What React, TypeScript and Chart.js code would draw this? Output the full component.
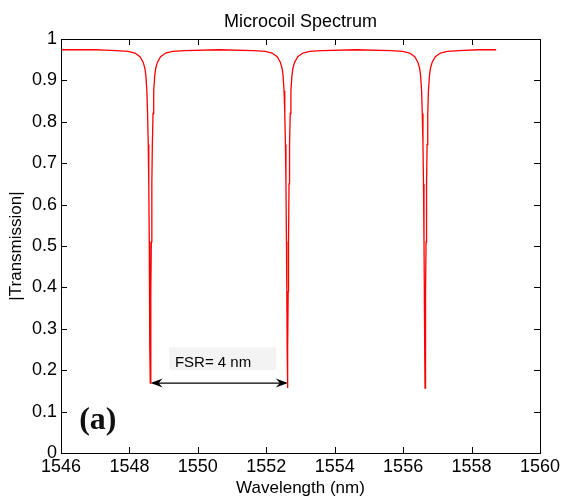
import React, { useEffect, useRef } from "react";
import { Chart, registerables } from "chart.js";

Chart.register(...registerables);

// ---- data ----
const WAVELENGTH_NM = [
  1546.0, 1547.0, 1547.3,
  // resonance 1
  1547.61, 1547.96, 1548.16, 1548.31, 1548.40, 1548.45, 1548.48, 1548.51, 1548.53, 1548.55,
  1548.565, 1548.58, 1548.59, 1548.60, 1548.61, 1548.62, 1548.63, 1548.64, 1548.655, 1548.67,
  1548.69, 1548.71, 1548.74, 1548.77, 1548.82, 1548.91, 1549.06, 1549.26, 1549.61,
  1550.61,
  // resonance 2
  1551.62, 1551.97, 1552.17, 1552.32, 1552.41, 1552.46, 1552.49, 1552.52, 1552.54, 1552.56,
  1552.575, 1552.59, 1552.60, 1552.61, 1552.62, 1552.63, 1552.64, 1552.65, 1552.665, 1552.68,
  1552.70, 1552.72, 1552.75, 1552.78, 1552.83, 1552.92, 1553.07, 1553.27, 1553.62,
  1554.63,
  // resonance 3
  1555.64, 1555.99, 1556.19, 1556.34, 1556.43, 1556.48, 1556.51, 1556.54, 1556.56, 1556.58,
  1556.595, 1556.61, 1556.62, 1556.63, 1556.64, 1556.65, 1556.66, 1556.67, 1556.685, 1556.70,
  1556.72, 1556.74, 1556.77, 1556.80, 1556.85, 1556.94, 1557.09, 1557.29, 1557.64,
  1558.2, 1558.72,
];

const TRANSMISSION = [
  0.974, 0.974, 0.973,
  0.972, 0.970, 0.966, 0.957, 0.944, 0.930, 0.912, 0.875, 0.820, 0.745,
  0.650, 0.510, 0.390, 0.255, 0.169, 0.255, 0.390, 0.510, 0.650, 0.745,
  0.820, 0.875, 0.912, 0.930, 0.944, 0.957, 0.966, 0.970, 0.972,
  0.974,
  0.972, 0.970, 0.966, 0.957, 0.944, 0.930, 0.912, 0.875, 0.820, 0.745,
  0.650, 0.510, 0.390, 0.255, 0.157, 0.255, 0.390, 0.510, 0.650, 0.745,
  0.820, 0.875, 0.912, 0.930, 0.944, 0.957, 0.966, 0.970, 0.972,
  0.974,
  0.972, 0.970, 0.966, 0.957, 0.944, 0.930, 0.912, 0.875, 0.820, 0.745,
  0.650, 0.510, 0.390, 0.255, 0.157, 0.255, 0.390, 0.510, 0.650, 0.745,
  0.820, 0.875, 0.912, 0.930, 0.944, 0.957, 0.966, 0.970, 0.972,
  0.974, 0.974,
];

const X_TICKS = [1546, 1548, 1550, 1552, 1554, 1556, 1558, 1560];
const X_TICK_LABELS = ["1546", "1548", "1550", "1552", "1554", "1556", "1558", "1560"];
const Y_TICKS = [0, 0.1, 0.2, 0.3, 0.4, 0.5, 0.6, 0.7, 0.8, 0.9, 1];
const Y_TICK_LABELS = ["0", "0.1", "0.2", "0.3", "0.4", "0.5", "0.6", "0.7", "0.8", "0.9", "1"];

const TITLE = "Microcoil Spectrum";
const X_TITLE = "Wavelength (nm)";
const Y_TITLE = "|Transmission|";

// annotations (data coordinates)
const FSR_ARROW_NM = [1548.62, 1552.63];
const FSR_ARROW_LEVEL = 0.169;
const FSR_LABEL = "FSR= 4 nm";
const FSR_LABEL_POS = [1549.33, 0.2085];
const FSR_BOX_NM = [1549.16, 1552.29];
const FSR_BOX_LEVEL = [0.2005, 0.2553];
const PANEL_LABEL = "(a)";
const PANEL_LABEL_POS = [1546.53, 0.059];

const SANS = '"Liberation Sans", Arial, sans-serif';
const SERIF = '"Liberation Serif", "Times New Roman", serif';

const framePlugin = {
  id: "matlabFrame",
  afterDatasetsDraw(chart: any) {
    const { ctx, scales } = chart;
    const xs = scales.x;
    const ys = scales.y;
    ctx.save();

    // FSR label box
    const bx0 = xs.getPixelForValue(FSR_BOX_NM[0]);
    const bx1 = xs.getPixelForValue(FSR_BOX_NM[1]);
    const by0 = ys.getPixelForValue(FSR_BOX_LEVEL[1]);
    const by1 = ys.getPixelForValue(FSR_BOX_LEVEL[0]);
    ctx.fillStyle = "#f3f3f3";
    ctx.fillRect(bx0, by0, bx1 - bx0, by1 - by0);
    ctx.fillStyle = "#000";
    ctx.font = `15px ${SANS}`;
    ctx.textBaseline = "alphabetic";
    ctx.textAlign = "left";
    ctx.fillText(FSR_LABEL, xs.getPixelForValue(FSR_LABEL_POS[0]), ys.getPixelForValue(FSR_LABEL_POS[1]));

    // double arrow
    const ax0 = xs.getPixelForValue(FSR_ARROW_NM[0]);
    const ax1 = xs.getPixelForValue(FSR_ARROW_NM[1]);
    const ay = ys.getPixelForValue(FSR_ARROW_LEVEL);
    ctx.strokeStyle = "#000";
    ctx.lineWidth = 1.3;
    ctx.beginPath();
    ctx.moveTo(ax0 + 2, ay);
    ctx.lineTo(ax1 - 2, ay);
    ctx.stroke();
    const head = (tip: number, dir: number) => {
      ctx.beginPath();
      ctx.moveTo(tip, ay);
      ctx.lineTo(tip + dir * 12, ay - 4.5);
      ctx.lineTo(tip + dir * 8, ay);
      ctx.lineTo(tip + dir * 12, ay + 4.5);
      ctx.closePath();
      ctx.fill();
    };
    ctx.fillStyle = "#000";
    head(ax0, 1);
    head(ax1, -1);

    // panel label
    ctx.fillStyle = "#111";
    ctx.font = `bold 32px ${SERIF}`;
    ctx.fillText(PANEL_LABEL, xs.getPixelForValue(PANEL_LABEL_POS[0]), ys.getPixelForValue(PANEL_LABEL_POS[1]));
    ctx.restore();
  },
  afterDraw(chart: any) {
    const { ctx, chartArea, scales } = chart;
    const { left, right, top, bottom } = chartArea;
    ctx.save();
    ctx.strokeStyle = "#000";
    ctx.lineWidth = 1;
    ctx.strokeRect(Math.round(left) + 0.5, Math.round(top) + 0.5, Math.round(right - left), Math.round(bottom - top));
    const tl = 6;
    ctx.beginPath();
    X_TICKS.forEach((v) => {
      const p = Math.round(scales.x.getPixelForValue(v)) + 0.5;
      if (p <= left + 1 || p >= right - 1) return;
      ctx.moveTo(p, bottom);
      ctx.lineTo(p, bottom - tl);
      ctx.moveTo(p, top);
      ctx.lineTo(p, top + tl);
    });
    Y_TICKS.forEach((v) => {
      const p = Math.round(scales.y.getPixelForValue(v)) + 0.5;
      if (p <= top + 1 || p >= bottom - 1) return;
      ctx.moveTo(left, p);
      ctx.lineTo(left + tl, p);
      ctx.moveTo(right, p);
      ctx.lineTo(right - tl, p);
    });
    ctx.stroke();
    ctx.restore();
  },
};

export default function App() {
  const canvasRef = useRef<HTMLCanvasElement | null>(null);

  useEffect(() => {
    const canvas = canvasRef.current;
    if (!canvas) return;
    const points = WAVELENGTH_NM.map((x, i) => ({ x, y: TRANSMISSION[i] }));
    const chart = new Chart(canvas, {
      type: "line",
      data: {
        datasets: [
          {
            data: points,
            borderColor: "#ff0000",
            borderWidth: 1.3,
            pointRadius: 0,
            tension: 0,
            fill: false,
          },
        ],
      },
      options: {
        animation: false,
        responsive: false,
        devicePixelRatio: 1,
        layout: { padding: { left: 0, right: 22, top: 0, bottom: 0 } },
        plugins: {
          legend: { display: false },
          tooltip: { enabled: false },
          title: {
            display: true,
            fullSize: false,
            text: TITLE,
            color: "#000",
            font: { family: SANS, size: 18, weight: "normal" },
            padding: { top: 11.7, bottom: 5.7 },
          },
        },
        scales: {
          x: {
            type: "linear",
            min: 1546,
            max: 1560,
            afterBuildTicks: (s: any) => {
              s.ticks = X_TICKS.map((value) => ({ value }));
            },
            ticks: {
              autoSkip: false,
              maxRotation: 0,
              padding: 3,
              color: "#000",
              font: { family: SANS, size: 18 },
              callback: (v: any) => X_TICK_LABELS[X_TICKS.indexOf(Number(v))] ?? String(v),
            },
            grid: { display: false, drawTicks: false },
            border: { display: false },
            title: {
              display: true,
              text: X_TITLE,
              color: "#000",
              font: { family: SANS, size: 17 },
              padding: { top: 0, bottom: -2 },
            },
            afterFit: (s: any) => {
              s.height = 44;
            },
          },
          y: {
            type: "linear",
            min: 0,
            max: 1,
            afterBuildTicks: (s: any) => {
              s.ticks = Y_TICKS.map((value) => ({ value }));
            },
            ticks: {
              autoSkip: false,
              padding: 4,
              color: "#000",
              font: { family: SANS, size: 18 },
              callback: (v: any) => Y_TICK_LABELS[Y_TICKS.indexOf(Number(v))] ?? String(v),
            },
            grid: { display: false, drawTicks: false },
            border: { display: false },
            title: {
              display: true,
              text: Y_TITLE,
              color: "#000",
              font: { family: SANS, size: 17 },
              padding: { top: 6.3, bottom: 0 },
            },
            afterFit: (s: any) => {
              s.width = 61;
            },
          },
        },
      },
      plugins: [framePlugin],
    } as any);
    return () => chart.destroy();
  }, []);

  return (
    <div style={{ position: "fixed", left: 0, top: 0, width: 563, height: 497, background: "#fff" }}>
      <canvas ref={canvasRef} width={563} height={497} style={{ display: "block", width: 563, height: 497 }} />
    </div>
  );
}
